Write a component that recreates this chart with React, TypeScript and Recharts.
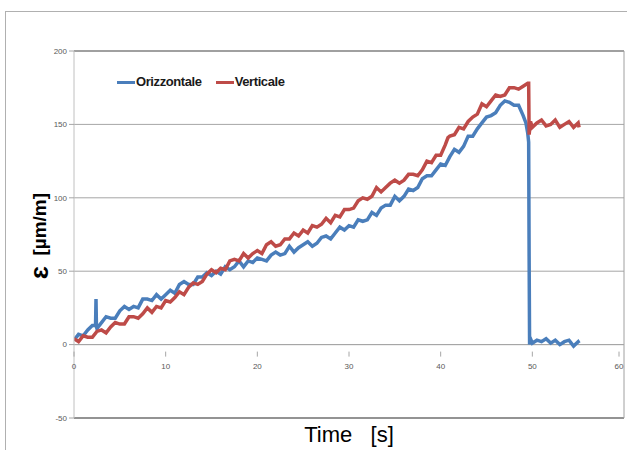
import React from 'react';
import { LineChart, Line, XAxis, YAxis, CartesianGrid, ReferenceLine } from 'recharts';

const tBlue = [0,0.5,1,1.5,2,2.35,2.4,2.45,2.5,3,3.5,4,4.5,5,5.5,6,6.5,7,7.5,8,8.5,9,9.5,10,10.5,11,11.5,12,12.5,13,13.5,14,14.5,15,15.5,16,16.5,17,17.5,18,18.5,19,19.5,20,20.5,21,21.5,22,22.5,23,23.5,24,24.5,25,25.5,26,26.5,27,27.5,28,28.5,29,29.5,30,30.5,31,31.5,32,32.5,33,33.5,34,34.5,35,35.5,36,36.5,37,37.5,38,38.5,39,39.5,40,40.5,41,41.5,42,42.5,43,43.5,44,44.5,45,45.5,46,46.5,47,47.5,48,48.5,49,49.3,49.5,49.6,49.65,49.7,49.8,50,50.5,51,51.5,52,52.5,53,53.5,54,54.5,55,55.1];
const vBlue = [3,7,6,10,13,13,31,12,11,
  15,19,18,18,23,26,24,26,25,31,
  31,30,34,31,34,37,35,41,43,41,
  41,46,46,49,47,50,48,53,51,53,
  57,53,57,56,59,58,57,61,63,61,
  62,67,63,66,68,70,67,69,73,74,
  72,76,80,78,81,80,85,84,85,90,
  88,93,95,95,101,98,101,106,105,107,
  113,115,115,119,123,122,128,133,131,135,
  142,142,147,151,155,156,158,163,166,165,
  163,163,156,
  151,144,138,60,0,4,
  1,3,2,4,1,3,0,2,3,-1,2,1];

const tRed = [0,0.5,1,1.5,2,2.5,3,3.5,4,4.5,5,5.5,6,6.5,7,7.5,8,8.5,9,9.5,10,10.5,11,11.5,12,12.5,13,13.5,14,14.5,15,15.5,16,16.5,17,17.5,18,18.5,19,19.5,20,20.5,21,21.5,22,22.5,23,23.5,24,24.5,25,25.5,26,26.5,27,27.5,28,28.5,29,29.5,30,30.5,31,31.5,32,32.5,33,33.5,34,34.5,35,35.5,36,36.5,37,37.5,38,38.5,39,39.5,40,40.5,40.8,41,41.5,42,42.5,43,43.5,44,44.5,45,45.5,46,46.5,47,47.5,48,48.5,49,49.5,49.6,49.65,49.8,50,50.5,51,51.5,52,52.5,53,53.5,54,54.5,55,55.1];
const vRed = [4,2,6,5,5,9,10,8,12,15,
  14,14,19,19,18,21,25,22,26,25,
  30,29,32,36,34,39,42,41,43,48,
  51,49,52,51,57,58,57,62,59,62,
  64,62,68,70,67,68,72,72,76,74,
  78,76,81,80,82,86,83,88,87,92,
  92,93,98,100,99,101,107,104,107,110,
  112,110,112,116,116,115,119,125,124,129,
  129,136,141,
  142,143,148,147,152,155,157,164,162,166,170,169,170,175,175,174,176,178,
  178,143,152,
  148,151,153,149,150,153,148,150,152,148,151,148];

const xTicks = [0, 10, 20, 30, 40, 50, 60];
const yTicks = [-50, 0, 50, 100, 150, 200];

const seriesNames = ['Orizzontale', 'Verticale'];
const seriesColors = ['#4a7ebb', '#be4b48'];

const blueData = tBlue.map((t, i) => ({ t, v: vBlue[i] }));
const redData = tRed.map((t, i) => ({ t, v: vRed[i] }));

const PLOT_TOP = 51;
const PLOT_BOTTOM = 418;
const ZERO_OFFSET = ((PLOT_BOTTOM - PLOT_TOP) * (0 - yTicks[0])) / (yTicks[yTicks.length - 1] - yTicks[0]);

const XTick = (props: any) => {
  const { x, y, payload } = props;
  const y0 = y - ZERO_OFFSET;
  return (
    <g>
      <line x1={x} x2={x} y1={y0 - 1} y2={y0 + 4} stroke="#a6a6a6" />
      <text x={x} y={y0 + 16} textAnchor="middle" fontSize={8} fill="#595959" fontFamily="Liberation Sans, Arial, sans-serif">
        {payload.value}
      </text>
    </g>
  );
};

const LegendBox = () => (
  <div style={{ position: 'absolute', left: 117, top: 74, display: 'flex', alignItems: 'center', fontFamily: '"Liberation Sans", Arial, sans-serif', fontWeight: 'bold', fontSize: 13, letterSpacing: -0.4, color: '#1a1a1a', whiteSpace: 'nowrap', lineHeight: '16px' }}>
    {seriesNames.map((n, i) => (
      <div key={n} style={{ display: 'flex', alignItems: 'center', marginRight: 14 }}>
        <div style={{ width: 18, height: 3, background: seriesColors[i], marginRight: 1 }} />
        <span>{n}</span>
      </div>
    ))}
  </div>
);

export default function App() {
  return (
    <div style={{ position: 'absolute', left: 0, top: 0, width: 627, height: 450, overflow: 'hidden', background: '#fff' }}>
      <div style={{ position: 'absolute', left: 5, top: 11, width: 700, height: 500, border: '1px solid #b0b0b0', boxSizing: 'border-box' }} />
      <div style={{ position: 'absolute', left: 0, top: 0 }}>
        <LineChart width={627} height={450} margin={{ top: PLOT_TOP, right: 3, bottom: 0, left: 0 }}>
          <CartesianGrid horizontal vertical={false} stroke="#a6a6a6" />
          <XAxis
            dataKey="t"
            type="number"
            domain={[0, 60]}
            ticks={xTicks}
            height={32}
            axisLine={false}
            tickLine={false}
            tick={<XTick />}
            allowDataOverflow
            label={{ value: 'Time\u00a0\u00a0\u00a0[s]', position: 'insideBottom', offset: 8, style: { fontSize: 22, fill: '#000', fontFamily: 'Liberation Sans, Arial, sans-serif' } }}
          />
          <YAxis
            type="number"
            domain={[-50, 200]}
            ticks={yTicks}
            width={74}
            axisLine={{ stroke: '#c0c0c0' }}
            tickLine={{ stroke: '#a6a6a6' }}
            tickSize={5}
            tickMargin={2}
            tick={{ fontSize: 8, fill: '#595959', fontFamily: 'Liberation Sans, Arial, sans-serif' }}
            label={{
              content: () => (
                <text x={39} y={236} transform="rotate(-90 39 236)" textAnchor="middle" dominantBaseline="central" fontWeight="bold" fill="#000" fontFamily="Liberation Sans, Arial, sans-serif">
                  <tspan fontSize={26}>{'\u025b'}</tspan>
                  <tspan fontSize={19}>{'\u00a0\u00a0[\u00b5m/m]'}</tspan>
                </text>
              ),
            }}
          />
          <ReferenceLine y={200} stroke="#6f6f6f" strokeWidth={1.2} />
          <ReferenceLine y={-50} stroke="#555555" strokeWidth={1.2} />
          <ReferenceLine x={60} stroke="#a0a0a0" />
          <ReferenceLine y={0} stroke="#a6a6a6" />
          <Line data={blueData} dataKey="v" name={seriesNames[0]} stroke={seriesColors[0]} strokeWidth={3.5} dot={false} isAnimationActive={false} type="linear" />
          <Line data={redData} dataKey="v" name={seriesNames[1]} stroke={seriesColors[1]} strokeWidth={3.5} dot={false} isAnimationActive={false} type="linear" />
        </LineChart>
      </div>
      <LegendBox />
    </div>
  );
}
